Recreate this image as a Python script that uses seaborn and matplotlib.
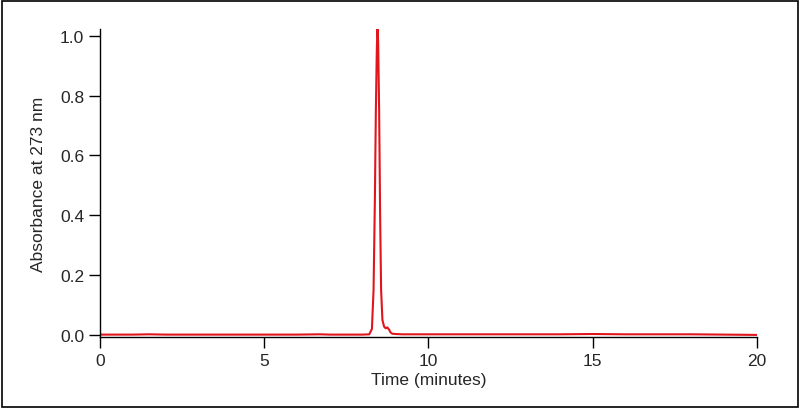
import matplotlib
matplotlib.use("Agg")
import matplotlib.pyplot as plt
import seaborn as sns
import pandas as pd

time_min = [0.0, 1.0, 1.5, 2.0, 4.0, 6.0, 6.7, 7.0, 8.0, 8.2, 8.28, 8.33, 8.37, 8.40, 8.43, 8.45, 8.47,
            8.50, 8.53, 8.56, 8.60, 8.65, 8.70, 8.75, 8.80, 8.85, 8.90, 9.0, 9.2, 10.0, 11.0, 12.0,
            14.0, 15.0, 16.0, 18.0, 19.0, 20.0]
absorbance = [0.001, 0.001, 0.002, 0.001, 0.001, 0.001, 0.002, 0.001, 0.001, 0.002, 0.02, 0.15, 0.45, 0.75,
              0.96, 1.027, 0.98, 0.75, 0.40, 0.15, 0.05, 0.028, 0.022, 0.025, 0.018, 0.008, 0.004, 0.003,
              0.002, 0.002, 0.002, 0.002, 0.002, 0.003, 0.002, 0.002, 0.001, 0.0]

df = pd.DataFrame({"t": time_min, "a": absorbance})

sns.set_style("ticks")
plt.rcParams['font.family'] = ['Liberation Sans', 'DejaVu Sans']
fig = plt.figure(figsize=(8, 4.1), dpi=100)
ax = fig.add_axes([0.125, 0.1756, 0.821, 0.7514])
sns.lineplot(data=df, x="t", y="a", ax=ax, color="#e0161c", linewidth=1.5)
ax.set_xlim(0, 20)
ax.set_ylim(-0.007, 1.023)
ax.set_xticks([0, 5, 10, 15, 20])
ax.set_yticks([0, 0.2, 0.4, 0.6, 0.8, 1.0])
ax.set_yticklabels(["0.0", "0.2", "0.4", "0.6", "0.8", "1.0"])
ax.set_xlabel("Time (minutes)", fontsize=12.5, labelpad=3)
ax.set_ylabel("Absorbance at 273 nm", fontsize=12.5, labelpad=10)
ax.tick_params(labelsize=12.5, direction="out", length=8, color="black", width=1)
for s in ["top", "right"]:
    ax.spines[s].set_visible(False)
for s in ["left", "bottom"]:
    ax.spines[s].set_color("black")
    ax.spines[s].set_linewidth(1)
fig.patches.append(plt.Rectangle((0.003, 0.004), 0.994, 0.992, transform=fig.transFigure,
                                 fill=False, edgecolor="black", linewidth=1.2))
fig.savefig("out.png", dpi=100)
